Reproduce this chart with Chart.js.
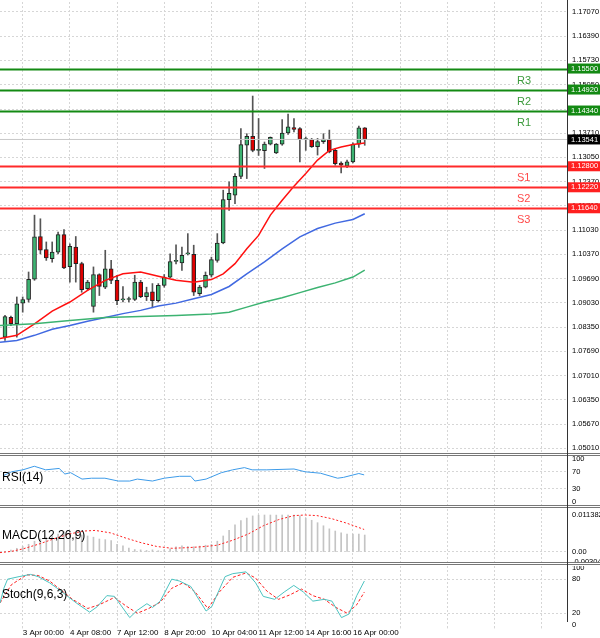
<!doctype html>
<html lang="en">
<head>
<meta charset="utf-8" />
<title>EURUSD H4</title>
<script src="https://cdn.jsdelivr.net/npm/chart.js"></script>
<style>
  * { box-sizing: border-box; }
  body { margin: 0; width: 600px; height: 638px; background: #fff; position: relative; overflow: hidden; font-family: "Liberation Sans", sans-serif; }
  .pane { position: absolute; left: 0; width: 600px; }
  .sep { position: absolute; left: 0; width: 600px; height: 3px; border-top: 1px solid #777; border-bottom: 1px solid #777; }
  .vline { position: absolute; left: 567px; top: 0; width: 1px; height: 622px; background: #333; }
  .name { position: absolute; left: 2px; font-size: 12px; color: #000; }
</style>
</head>
<body>
<div class="pane" style="top:2px;height:451px"><canvas id="main"></canvas></div>
<div class="sep" style="top:453px"></div>
<div class="pane" style="top:456px;height:49px"><canvas id="rsi"></canvas></div>
<div class="sep" style="top:505px"></div>
<div class="pane" style="top:509px;height:53px"><canvas id="macd"></canvas></div>
<div class="sep" style="top:562px"></div>
<div class="pane" style="top:566px;height:72px"><canvas id="stoch"></canvas></div>
<div class="vline"></div>
<div class="name" style="top:470px">RSI(14)</div>
<div class="name" style="top:528px">MACD(12,26,9)</div>
<div class="name" style="top:587px">Stoch(9,6,3)</div>
<script>
// ---- candles (H4), index 0..61
const opens  = [1.0808,1.0863,1.0845,1.0902,1.0912,1.0968,1.1086,1.1050,1.1025,1.1043,1.1091,1.1003,1.1057,1.1011,1.0942,1.0893,1.0981,1.0946,1.0997,1.0965,1.0911,1.0912,1.0912,1.0960,1.0920,1.0933,1.0909,1.0951,1.0974,1.1017,1.1013,1.1038,1.1037,1.0928,1.0946,1.0979,1.1020,1.1068,1.1188,1.1200,1.1252,1.1338,1.1363,1.1324,1.1323,1.1341,1.1317,1.1341,1.1372,1.1387,1.1384,1.1354,1.1354,1.1334,1.1348,1.1354,1.1324,1.1289,1.1280,1.1292,1.1341,1.1386];
const highs  = [1.0868,1.0866,1.0919,1.0919,1.0988,1.1145,1.1135,1.1071,1.1071,1.1098,1.1105,1.1066,1.1086,1.1015,1.0965,1.1002,1.0983,1.1048,1.1020,1.0979,1.0948,1.0919,1.0979,1.0965,1.0946,1.0956,1.0956,1.0981,1.1038,1.1063,1.1057,1.1094,1.1062,1.0951,1.0988,1.1029,1.1094,1.1214,1.1237,1.1260,1.1384,1.1370,1.1474,1.1412,1.1347,1.1361,1.1343,1.1409,1.1424,1.1412,1.1387,1.1361,1.1357,1.1357,1.1370,1.1380,1.1329,1.1292,1.1297,1.1345,1.1391,1.1387];
const lows   = [1.0799,1.0840,1.0808,1.0877,1.0905,1.0965,1.1038,1.1020,1.1015,1.1038,1.0997,1.0960,1.0960,1.0932,1.0937,1.0877,1.0923,1.0942,1.0956,1.0898,1.0905,1.0905,1.0909,1.0917,1.0909,1.0889,1.0905,1.0946,1.0972,1.1010,1.0992,1.1035,1.0923,1.0923,1.0944,1.0974,1.1015,1.1066,1.1158,1.1177,1.1246,1.1246,1.1320,1.1310,1.1274,1.1339,1.1315,1.1338,1.1368,1.1375,1.1292,1.1324,1.1332,1.1311,1.1343,1.1317,1.1283,1.1262,1.1276,1.1289,1.1332,1.1338];
const closes = [1.0865,1.0845,1.0900,1.0912,1.0968,1.1085,1.1048,1.1027,1.1043,1.1091,1.0999,1.1059,1.1011,1.0939,1.0960,1.0981,1.0948,1.0997,1.0965,1.0909,1.0913,1.0913,1.0960,1.0920,1.0931,1.0909,1.0951,1.0974,1.1017,1.1020,1.1034,1.1040,1.0932,1.0946,1.0979,1.1022,1.1068,1.1188,1.1205,1.1252,1.1340,1.1363,1.1324,1.1325,1.1341,1.1360,1.1341,1.1372,1.1389,1.1382,1.1354,1.1355,1.1334,1.1348,1.1355,1.1320,1.1287,1.1283,1.1292,1.1341,1.1386,1.13541];

// ---- moving averages, read at candle positions
const maRedX   = [-0.85,2,5,8,11,14,17,20,23,26,29,32,35,37,39,41,43,45,47,49,51,53,55,57,59,61];
const maRed    = [1.0804,1.0813,1.0845,1.0880,1.0905,1.0937,1.0965,1.0983,1.0988,1.0976,1.0965,1.0960,1.0967,1.0983,1.1011,1.1052,1.1089,1.1145,1.1186,1.1225,1.1260,1.1297,1.1324,1.1333,1.1340,1.1344];
const maBlueX  = [-0.85,2,5,8,11,14,17,20,23,26,29,32,35,38,41,44,47,50,53,56,59,61];
const maBlue   = [1.0794,1.0799,1.0813,1.0830,1.0840,1.0852,1.0862,1.0873,1.0882,1.0894,1.0902,1.0914,1.0926,1.0948,1.0983,1.1016,1.1052,1.1085,1.1108,1.1123,1.1133,1.1149];
const maGreenX = [-0.85,5,11,17,23,29,35,38,41,44,47,50,53,56,59,61];
const maGreen  = [1.0840,1.0845,1.0854,1.0862,1.0865,1.0868,1.0872,1.0877,1.0891,1.0905,1.0917,1.0931,1.0945,1.0958,1.0974,1.0993];

// ---- pivot levels
const levelNames  = ["R3","R2","R1","S1","S2","S3"];
const levelValues = [1.1550,1.1492,1.1434,1.1280,1.1222,1.1164];
const levelLabels = ["1.15500","1.14920","1.14340","1.12800","1.12220","1.11640"];
const lastPrice = 1.13541;

const priceTicks = [1.17070,1.16390,1.15730,1.15050,1.14370,1.13710,1.13050,1.12370,1.11710,1.11030,1.10370,1.09690,1.09030,1.08350,1.07690,1.07010,1.06350,1.05670,1.05010];

// ---- indicators
const rsiX = [-0.2,1.09,3.03,4.97,6.9,9.18,10.15,11.12,13.06,14.68,16.94,19.2,21.15,22.44,25.0,27.0,29.6,31.5,32.2,34.1,36.7,38.6,40.6,41.9,44.4,49.0,50.9,53.5,56.4,57.4,60.0,60.9];
const rsi  = [61.5,70,74.6,83,74.6,77.9,64.8,68,53,55,55,48.4,48.4,53,48.4,55,59.5,59.5,48.4,53,68,74.6,79.8,74.6,74.6,76.6,70,66.7,55,57,66,62.8];

const macdHist = [0.0002,0.0006,0.00114,0.00171,0.00237,0.00332,0.00399,0.00456,0.00493,0.00550,0.00617,0.00645,0.00588,0.00522,0.00493,0.00456,0.00399,0.00380,0.00351,0.00237,0.00190,0.00123,0.00076,0.00066,0.00047,0.00066,0.00038,0.00066,0.00095,0.00161,0.00190,0.00171,0.00161,0.00180,0.00209,0.00237,0.00332,0.00493,0.00664,0.00835,0.00968,0.01044,0.01110,0.01135,0.01138,0.01138,0.01135,0.01138,0.01138,0.01135,0.01110,0.01044,0.00977,0.00902,0.00807,0.00712,0.00645,0.00588,0.00550,0.00550,0.00550,0.00522];
const macdSigX = [-0.85,1.09,3.03,5.62,8.21,10.8,13.4,15.3,17.9,20.5,23.1,25.7,28.3,30.9,33.4,36.0,38.6,41.2,43.8,46.4,49.0,50.9,52.9,55.4,58.0,60.9];
const macdSig  = [-0.00019,0.00019,0.00095,0.00237,0.00399,0.00550,0.00645,0.00664,0.00588,0.00427,0.00285,0.00171,0.00114,0.00133,0.00161,0.00209,0.00361,0.00550,0.00807,0.00996,0.01120,0.01138,0.01120,0.01025,0.00883,0.00693];
const macdTicks = [0.011382,0,-0.00304];

const stochX = [-0.85,-0.2,0.44,2.39,4.33,5.62,7.56,8.86,10.47,12.09,14.35,15.65,17.27,18.56,21.15,22.44,24.06,25.03,26.32,28.27,29.56,31.5,34.1,35.06,37.32,38.62,40.88,42.5,43.79,45.73,47.35,48.97,50.59,52.2,54.15,55.44,57.06,58.35,59.64,60.94];
const stochK = [38.1,63.9,80,84.5,88.4,84.5,73.6,63.9,51.0,38.1,21.9,31.6,51.0,49.7,12.3,25.2,36.8,30.3,41.3,80,76.8,67.1,23.9,31.6,84.5,89.7,92.9,73.6,49.7,44.5,57.4,69.0,57.4,41.3,44.5,41.3,12.3,18.7,51.0,76.8];
const stochDX = [-0.85,1.09,3.68,5.62,7.56,9.5,11.44,14.03,15.97,18.56,20.5,22.44,24.38,26.32,28.27,30.2,32.15,34.4,36.35,38.62,40.88,42.5,44.44,46.38,48.3,50.27,52.2,54.15,56.09,58.03,59.64,60.94];
const stochD  = [38.1,70.3,87.7,86.5,76.8,60.7,44.5,28.4,34.9,47.8,32.9,20.0,28.4,39.4,63.9,73.6,58.7,28.4,57.4,83.2,91.0,81.9,58.7,44.5,52.3,62.6,51.0,44.5,30.3,20.0,34.9,57.4];

const gridIdx = [3,11,19,27,35,43,51,59,67,75,83,91];
const timeLabels = ["3 Apr 00:00","4 Apr 08:00","7 Apr 12:00","8 Apr 20:00","10 Apr 04:00","11 Apr 12:00","14 Apr 16:00","16 Apr 00:00","","","",""];

const X_MIN = -0.85, X_MAX = 95.3;
const GRID = "#d6d6d6";
const pts = (xs, ys) => xs.map((x, i) => ({ x, y: ys[i] }));

function xAxis(show) {
  return {
    type: "linear", min: X_MIN, max: X_MAX, offset: false,
    afterBuildTicks: (a) => { a.ticks = gridIdx.map((v) => ({ value: v })); },
    grid: { color: GRID, drawTicks: show, tickLength: 2, offset: false },
    border: { display: false, dash: [2, 2] },
    ticks: {
      display: show, autoSkip: false, maxRotation: 0, align: "start", padding: 0,
      font: { size: 8, family: "Liberation Sans" }, color: "#000",
      callback: (v) => timeLabels[gridIdx.indexOf(v)] || "",
    },
  };
}

function yAxis(min, max, ticks, fmt, gridFilter) {
  return {
    position: "right", min, max,
    afterBuildTicks: (a) => { a.ticks = ticks.map((v) => ({ value: v })); },
    afterFit: (s) => { s.width = 33; s.paddingTop = 0; s.paddingBottom = 0; },
    grid: { color: (c) => (gridFilter(c.tick.value) ? GRID : "transparent"), drawTicks: false },
    border: { display: false, dash: [2, 2] },
    ticks: { padding: 5, font: { size: 7.5, family: "Liberation Sans" }, color: "#000", callback: fmt },
  };
}

const base = {
  responsive: true, maintainAspectRatio: false, animation: false,
  layout: { padding: 0 },
  plugins: { legend: { display: false }, tooltip: { enabled: false } },
};

const levelsPlugin = {
  id: "levels",
  afterDatasetsDraw(chart) {
    const { ctx, chartArea: a, scales: { y } } = chart;
    ctx.save();
    const py = y.getPixelForValue(lastPrice);
    ctx.strokeStyle = "#c8c8c8"; ctx.lineWidth = 1;
    ctx.beginPath(); ctx.moveTo(a.left, py); ctx.lineTo(a.right, py); ctx.stroke();
    levelValues.forEach((v, i) => {
      const resist = levelNames[i][0] === "R";
      const col = resist ? "#138a13" : "#ff2a2a";
      const ly = Math.round(y.getPixelForValue(v)) + 0.5;
      ctx.strokeStyle = col; ctx.lineWidth = 2;
      ctx.beginPath(); ctx.moveTo(a.left, ly); ctx.lineTo(a.right, ly); ctx.stroke();
      ctx.fillStyle = resist ? "#3c9a3c" : "#ff4a4a";
      ctx.font = "11px 'Liberation Sans'"; ctx.textAlign = "left"; ctx.textBaseline = "middle";
      ctx.fillText(levelNames[i], a.right - 50, ly + 11);
    });
    ctx.restore();
  },
  afterDraw(chart) {
    const { ctx, chartArea: a, scales: { y } } = chart;
    ctx.save();
    ctx.font = "7.5px 'Liberation Sans'"; ctx.textBaseline = "middle"; ctx.textAlign = "left";
    const box = (v, txt, bg) => {
      const by = y.getPixelForValue(v);
      ctx.fillStyle = bg; ctx.fillRect(a.right + 1, by - 5, 33, 10);
      ctx.fillStyle = "#fff"; ctx.fillText(txt, a.right + 4, by);
    };
    levelValues.forEach((v, i) => box(v, levelLabels[i], levelNames[i][0] === "R" ? "#138a13" : "#ff2020"));
    box(lastPrice, lastPrice.toFixed(5), "#000");
    ctx.restore();
  },
};

const up = (i) => closes[i] >= opens[i];
const idx = opens.map((_, i) => i);

new Chart(document.getElementById("main"), {
  type: "bar",
  data: {
    datasets: [
      { type: "line", data: pts(maGreenX, maGreen), borderColor: "#3cb371", borderWidth: 1.5, pointRadius: 0, order: 1 },
      { type: "line", data: pts(maBlueX, maBlue), borderColor: "#4169e1", borderWidth: 1.5, pointRadius: 0, order: 1 },
      { type: "line", data: pts(maRedX, maRed), borderColor: "#ff1010", borderWidth: 1.5, pointRadius: 0, order: 1 },
      { data: idx.map((i) => ({ x: i, y: [opens[i], closes[i]] })), backgroundColor: idx.map((i) => (up(i) ? "#3cb371" : "#e00000")),
        borderColor: "#222", borderWidth: 1, borderSkipped: false, barThickness: 4, minBarLength: 1, grouped: false, order: 2 },
      { data: idx.map((i) => ({ x: i, y: [lows[i], highs[i]] })), backgroundColor: "#555", barThickness: 1, grouped: false, order: 3 },
    ],
  },
  options: { ...base, scales: { x: xAxis(false), y: yAxis(1.0488, 1.17338, priceTicks, (v) => v.toFixed(5), () => true) } },
  plugins: [levelsPlugin],
});

new Chart(document.getElementById("rsi"), {
  type: "line",
  data: { datasets: [{ data: pts(rsiX, rsi), borderColor: "#3d9be9", borderWidth: 1, pointRadius: 0 }] },
  options: { ...base, scales: { x: xAxis(false), y: yAxis(-7.7, 107, [100, 70, 30, 0], (v) => String(v), (v) => v === 70 || v === 30) } },
});

new Chart(document.getElementById("macd"), {
  type: "bar",
  data: {
    datasets: [
      { type: "line", data: pts(macdSigX, macdSig), borderColor: "#ff2020", borderWidth: 1, borderDash: [2, 2], pointRadius: 0, order: 1 },
      { data: macdHist.map((v, i) => ({ x: i, y: v })), backgroundColor: "#c4c4c4", barThickness: 1, order: 2 },
    ],
  },
  options: { ...base, scales: { x: xAxis(false), y: yAxis(-0.00308, 0.01323, macdTicks, (v) => (v === 0 ? "0.00" : v === -0.00304 ? "-0.00304" : "0.011382"), (v) => v === 0) } },
});

new Chart(document.getElementById("stoch"), {
  type: "line",
  data: {
    datasets: [
      { data: pts(stochX, stochK), borderColor: "#4cc3c0", borderWidth: 1, pointRadius: 0 },
      { data: pts(stochDX, stochD), borderColor: "#ff2020", borderWidth: 1, borderDash: [3, 2], pointRadius: 0 },
    ],
  },
  options: { ...base, scales: { x: xAxis(true), y: yAxis(-3.2, 103.2, [100, 80, 20, 0], (v) => String(v), (v) => v === 80 || v === 20) } },
});
</script>
</body>
</html>
